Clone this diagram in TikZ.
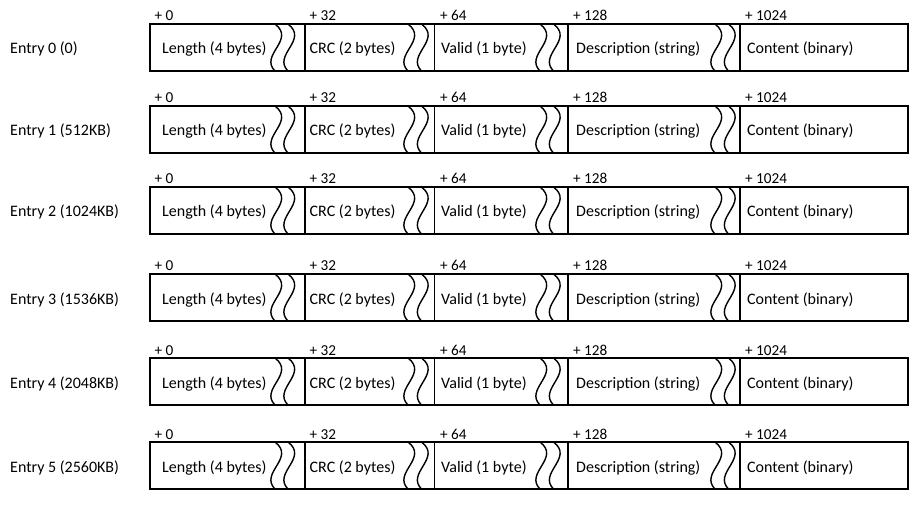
\documentclass[tikz,border=0pt]{standalone}
\usepackage{fontspec}
\setmainfont{Carlito}
\begin{document}
\begin{tikzpicture}[x=1pt,y=-1pt,
  lbl/.style={font=\fontsize{16}{19}\selectfont, inner sep=0pt, anchor=base west},
  offlbl/.style={font=\fontsize{15.2}{18}\selectfont, inner sep=0pt, anchor=base west},
  outerbox/.style={line width=2pt},
  divider/.style={line width=1.3pt},
  wave/.style={line width=1.4pt}]
\useasboundingbox (0,0) rectangle (924,505);
\foreach \yt/\lab/\i in {24/{Entry 0 (0)}/0,106/{Entry 1 (512KB)}/1,187/{Entry 2 (1024KB)}/2,274/{Entry 3 (1536KB)}/3,358/{Entry 4 (2048KB)}/4,442/{Entry 5 (2560KB)}/5}{
  \pgfmathsetmacro\yb{\yt+47}
  \pgfmathsetmacro\ym{\yt+30}
  \pgfmathsetmacro\yo{\yt-3}
  \node[lbl] (entry\i) at (10,\ym) {\lab};
  \foreach \dx in {305,434.5,568,740} \draw[divider] (\dx,\yt) -- (\dx,\yb);
  \foreach \cx in {275,288,408,421.5,540,553.5,715,728.5}
    \draw[wave] (\cx,\yt) .. controls ({\cx+21},{\yt+16}) and ({\cx-16},{\yb-16}) .. (\cx,\yb);
  \draw[outerbox] (150,\yt) rectangle (908,\yb);
  \node[lbl] (len\i) at (162,\ym) {Length (4 bytes)};
  \node[lbl] (crc\i) at (309.5,\ym) {CRC (2 bytes)};
  \node[lbl] (val\i) at (441,\ym) {Valid (1 byte)};
  \node[lbl] (desc\i) at (576,\ym) {Description (string)};
  \node[lbl] (cont\i) at (747,\ym) {Content (binary)};
  \node[offlbl] (offa\i) at (154.5,\yo) {+ 0};
  \node[offlbl] (offb\i) at (309.5,\yo) {+ 32};
  \node[offlbl] (offc\i) at (440,\yo) {+ 64};
  \node[offlbl] (offd\i) at (573,\yo) {+ 128};
  \node[offlbl] (offe\i) at (745,\yo) {+ 1024};
}
\end{tikzpicture}
\end{document}
